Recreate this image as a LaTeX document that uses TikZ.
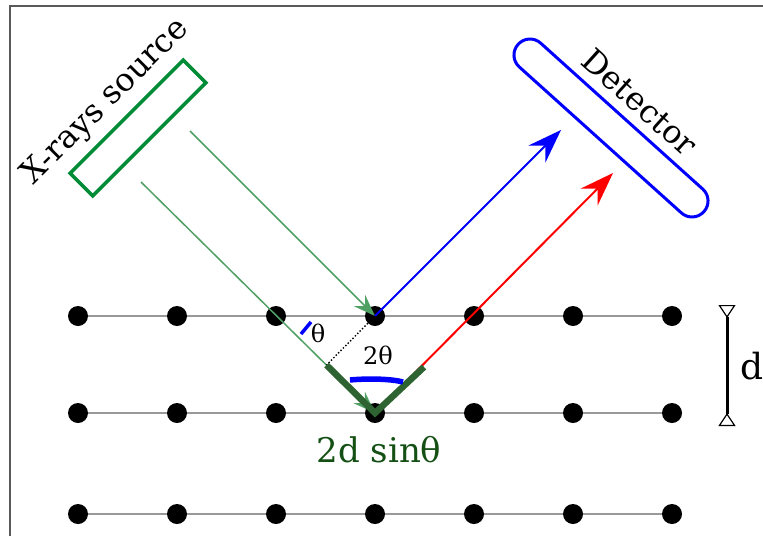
\documentclass[tikz,border=0pt]{standalone}
\usepackage{fontspec}
\setmainfont{DejaVu Serif}
\usetikzlibrary{arrows.meta,calc}
\definecolor{srcgreen}{RGB}{0,140,55}
\definecolor{raygreen}{RGB}{80,160,100}
\definecolor{pathgreen}{RGB}{45,100,50}
\definecolor{txtgreen}{RGB}{20,80,20}

\begin{document}
\begin{tikzpicture}[x=1pt,y=-1pt,
    atom/.style={circle,fill=black,inner sep=0pt,minimum size=20pt},
    inray/.style={raygreen,line width=1.5pt,-{Stealth[length=22pt,width=16pt,inset=8pt]}},
    outray/.style={line width=2pt,-{Stealth[length=34pt,width=24pt,inset=12pt]}},
    lbl/.style={font=\fontsize{32}{36}\selectfont}]
    \useasboundingbox (0,0) rectangle (763,536);
    \draw[gray!70!black,line width=1.3pt] (10,536) -- (10,6) -- (763,6);
    \foreach \r/\y in {1/316,2/413,3/514} {
	\foreach \c in {1,...,7}
	    \node[atom] (a\r\c) at ({78+99*(\c-1)},\y) {};
	\foreach \c [evaluate=\c as \n using int(\c+1)] in {1,...,6}
	    \draw[gray!80,line width=1.3pt] (a\r\c) -- (a\r\n);
    }
    \node[draw=srcgreen,line width=3.5pt,minimum width=160pt,minimum height=32pt,rotate=45] (src) at (138,128) {};
    \node[lbl,rotate=45] (srclbl) at (106,102) {X-rays source};
    \node[draw=blue,line width=3pt,rounded corners=15.9pt,minimum width=250pt,minimum height=32pt,rotate=-42] (det) at (611,128) {};
    \node[lbl,rotate=-42] (detlbl) at (640,102) {Detector};
    \coordinate (s1) at (190,131);
    \coordinate (s2) at (141,182);
    \coordinate (t1) at (561,130);
    \coordinate (t2) at (613,173);
    \draw[inray] (s1) -- (a14.center);
    \draw[inray] (s2) -- (a24.center);
    \draw[outray,blue] (a14.center) -- (t1);
    \draw[outray,red] (a24.center) -- (t2);
    \coordinate (f) at ($(s2)!(a14.center)!(a24.center)$);
    \coordinate (g) at ($(a24.center)+(49,-46)$);
    \draw[dotted,line width=1.4pt] (a14.center) -- (f);
    \draw[pathgreen,line width=6.5pt] (f) -- (a24.center) -- (g);
    \draw[blue,line width=3.5pt] (301,334) -- (311,322);
    \draw[blue,line width=5.5pt] (350,380) .. controls (365,378.5) and (390,378.5) .. (403,382);
    \node[font=\fontsize{24}{28}\selectfont] (th) at (318,333) {θ};
    \node[font=\fontsize{24}{28}\selectfont] (tth) at (378,355) {2θ};
    \node[lbl,text=txtgreen,font=\fontsize{34}{38}\selectfont] (path) at (379,450) {2d sinθ};
    \coordinate (d1) at (727,305);
    \coordinate (d2) at (727,426);
    \draw[line width=3pt,{Triangle[open,reversed,length=13pt,width=17pt,line width=1.2pt]}-{Triangle[open,reversed,length=13pt,width=17pt,line width=1.2pt]}] (d1) -- (d2);
    \node[font=\fontsize{36}{40}\selectfont] (dlbl) at (752,366) {d};
\end{tikzpicture}
\end{document}
